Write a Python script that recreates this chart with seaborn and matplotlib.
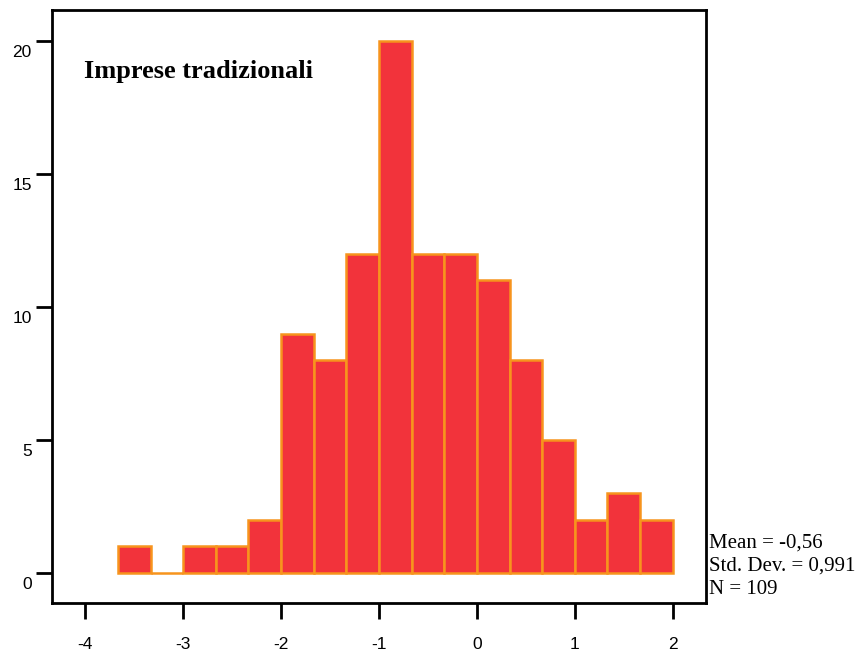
import numpy as np
import pandas as pd
import matplotlib
matplotlib.use("Agg")
import matplotlib.pyplot as plt
import matplotlib.transforms as mtransforms
import seaborn as sns

# Data
bin_start = -11 / 3
bin_width = 1 / 3
counts = [1, 0, 1, 1, 2, 9, 8, 12, 20, 12, 12, 11, 8, 5, 2, 3, 2]
x_ticks = [-4, -3, -2, -1, 0, 1, 2]
y_ticks = [0, 5, 10, 15, 20]
title = "Imprese tradizionali"
stats_lines = ["Mean = -0,56", "Std. Dev. = 0,991", "N = 109"]

edges = [bin_start + bin_width * i for i in range(len(counts) + 1)]
centers = [(a + b) / 2 for a, b in zip(edges[:-1], edges[1:])]
df = pd.DataFrame({"value": centers, "count": counts})

sns.set_theme(style="white")
plt.rcParams["font.family"] = ["Liberation Sans", "DejaVu Sans"]
plt.rcParams["text.color"] = "black"

fig = plt.figure(figsize=(8.62, 6.57), dpi=100)
ax = fig.add_axes([52 / 862, 1 - 603 / 657, (706 - 52) / 862, (603 - 10) / 657])

sns.histplot(data=df, x="value", weights="count", bins=edges, ax=ax,
             color="#f2333b", edgecolor="#f7941d", linewidth=1.8, alpha=1.0)

ax.set_xlim(-4.34, 2.34)
ax.set_ylim(-1.13, 21.17)
ax.set_xticks(x_ticks)
ax.set_yticks(y_ticks)
ax.set_xticklabels([str(v) for v in x_ticks])
ax.set_yticklabels([str(v) for v in y_ticks])
ax.set_xlabel("")
ax.set_ylabel("")

for s in ax.spines.values():
    s.set_visible(True)
    s.set_linewidth(2.0)
    s.set_color("black")

ax.tick_params(axis="both", direction="out", length=11.5, width=2.0, colors="black",
               labelsize=12.5, left=True, bottom=True)
ax.tick_params(axis="y", pad=3)
ax.tick_params(axis="x", pad=13)

offset = mtransforms.ScaledTranslation(0, -10 / 100, fig.dpi_scale_trans)
for lab in ax.get_yticklabels():
    lab.set_transform(lab.get_transform() + offset)

fig.text(84 / 862, 1 - 78 / 657, title, color="black",
         fontsize=19, fontweight="bold", family=["Liberation Serif", "DejaVu Serif"],
         ha="left", va="baseline")

for i, line in enumerate(stats_lines):
    fig.text(709 / 862, 1 - (548 + 23 * i) / 657, line, color="black",
             fontsize=15, family=["Liberation Serif", "DejaVu Serif"],
             ha="left", va="baseline")

fig.savefig("out.png", dpi=100)
